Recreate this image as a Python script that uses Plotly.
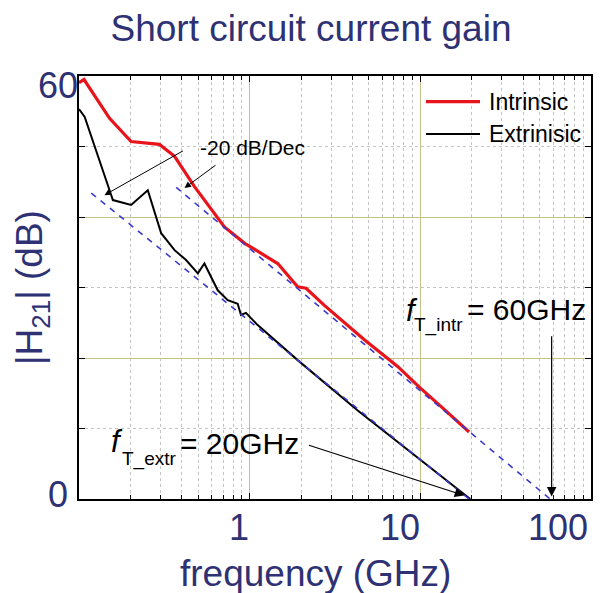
import numpy as np
import plotly.graph_objects as go

# ---------------- data ----------------
intr_freq = [0.1, 0.107, 0.151, 0.202, 0.296, 0.363, 0.475, 0.711, 0.931, 1.11, 1.46,
             1.91, 2.14, 2.73, 3.27, 4.70, 7.36, 9.83, 13.96, 19.3]
intr_gain = [59.05, 59.5, 54.0, 50.7, 50.3, 48.6, 44.3, 38.6, 36.3, 35.2, 33.4,
             30.1, 29.9, 27.5, 25.9, 22.6, 18.8, 15.9, 12.6, 9.5]

extr_freq = [0.1, 0.108, 0.151, 0.158, 0.202, 0.253, 0.303, 0.363, 0.424, 0.497, 0.543,
             0.650, 0.744, 0.851, 0.889, 0.951, 1.11, 1.74, 1.91, 4.28, 19.6]
extr_gain = [55.3, 54.2, 43.8, 42.4, 41.7, 43.8, 37.7, 35.3, 33.9, 32.0, 33.4,
             29.6, 28.2, 27.7, 26.1, 26.4, 24.7, 20.6, 19.7, 12.6, 0.0]

extr_fit_freq = [0.118, 19.3]
extr_fit_gain = [43.4, 0.0]
intr_fit_freq = [0.371, 57.6]
intr_fit_gain = [44.2, 0.0]

x_tick_vals = [1, 10, 100]
x_tick_text = ["1", "10", "100"]
y_tick_vals = [0, 60]
y_tick_text = ["0", "60"]
minor_x = [m * d for d in (0.1, 1, 10) for m in range(2, 10)]

NAVY = "#2E3173"
FONT = "Liberation Sans, Arial, sans-serif"

# plot area in pixels
L, R, T, B = 79, 591, 76, 499
W, H = 604, 593


def px(p):
    return (p - L) / (R - L)


def py(p):
    return (B - p) / (B - T)


fig = go.Figure()

fig.add_trace(go.Scatter(x=intr_freq, y=intr_gain, mode="lines", name="Intrinsic",
                         line=dict(color="#E8141B", width=3.2)))
fig.add_trace(go.Scatter(x=extr_freq, y=extr_gain, mode="lines", name="Extrinisic",
                         line=dict(color="#000000", width=2)))
fig.add_trace(go.Scatter(x=extr_fit_freq, y=extr_fit_gain, mode="lines", showlegend=False,
                         line=dict(color="#3A3ACC", width=1.6, dash="6px,6px")))
fig.add_trace(go.Scatter(x=intr_fit_freq, y=intr_fit_gain, mode="lines", showlegend=False,
                         line=dict(color="#3A3ACC", width=1.6, dash="6px,6px")))

ann = []
# tick labels
for v, t, shift in zip(x_tick_vals, x_tick_text, [-11, -20, -33]):
    ann.append(dict(x=np.log10(v), xref="x", y=py(527), yref="paper", text=t,
                    showarrow=False, xshift=shift, xanchor="center", yanchor="middle",
                    font=dict(size=36, color=NAVY, family=FONT)))
for v, t, ypix in zip(y_tick_vals, y_tick_text, [494, 85]):
    ann.append(dict(x=px(58), xref="paper", y=py(ypix), yref="paper", text=t,
                    showarrow=False, xanchor="center", yanchor="middle",
                    font=dict(size=36, color=NAVY, family=FONT)))
# axis titles
ann.append(dict(x=px(315), xref="paper", y=py(573), yref="paper", text="frequency (GHz)",
                showarrow=False, xanchor="center", yanchor="middle",
                font=dict(size=37, color=NAVY, family=FONT)))
ann.append(dict(x=px(32), xref="paper", y=py(288), yref="paper", text="|H<sub>21</sub>| (dB)",
                showarrow=False, textangle=-90, xanchor="center", yanchor="middle",
                font=dict(size=37, color=NAVY, family=FONT)))

# legend (manual)
for ytxt, name in [(102, "Intrinsic"), (134, "Extrinisic")]:
    ann.append(dict(x=px(487), xref="paper", y=py(ytxt), yref="paper", text=name,
                    showarrow=False, xanchor="left", yanchor="middle",
                    font=dict(size=23, color="black", family=FONT)))

# -20 dB/Dec
ann.append(dict(x=px(252), xref="paper", y=py(147), yref="paper", text="-20 dB/Dec",
                showarrow=False, xanchor="center", yanchor="middle",
                font=dict(size=21, color="black", family=FONT)))
for (tx, ty), (hx, hy) in [((0.415, 49.5), (0.141, 43.1)), ((0.644, 47.5), (0.415, 44.1))]:
    ann.append(dict(x=np.log10(hx), y=hy, xref="x", yref="y", ax=np.log10(tx), ay=ty,
                    axref="x", ayref="y", text="", showarrow=True, arrowhead=2,
                    arrowsize=1.3, arrowwidth=1, arrowcolor="black"))

# fT arrows
ann.append(dict(x=np.log10(18.1), y=0.5, xref="x", yref="y", ax=np.log10(2.18), ay=7.7,
                axref="x", ayref="y", text="", showarrow=True, arrowhead=2,
                arrowsize=1.6, arrowwidth=1.2, arrowcolor="black"))
ann.append(dict(x=np.log10(58.8), y=0.35, xref="x", yref="y", ax=np.log10(58.8), ay=23.3,
                axref="x", ayref="y", text="", showarrow=True, arrowhead=2,
                arrowsize=1.6, arrowwidth=1.2, arrowcolor="black"))

for fx, fy, sx, sy, sub, mx, my, main in [
        (117, 441, 120, 459, "T_extr", 178, 443, "= 20GHz"),
        (412, 310, 412, 325, "T_intr", 465, 309, "= 60GHz")]:
    ann.append(dict(x=px(fx), xref="paper", y=py(fy), yref="paper", text="<i>f</i>",
                    showarrow=False, xanchor="center", yanchor="middle",
                    font=dict(size=31, color="black", family=FONT)))
    ann.append(dict(x=px(sx), xref="paper", y=py(sy), yref="paper", text=sub,
                    showarrow=False, xanchor="left", yanchor="middle",
                    font=dict(size=19, color="black", family=FONT)))
    ann.append(dict(x=px(mx), xref="paper", y=py(my), yref="paper", text=main,
                    showarrow=False, xanchor="left", yanchor="middle",
                    font=dict(size=30, color="black", family=FONT)))

shapes = []
for ypix, col, wd in [(101.7, "#E8141B", 3.2), (134, "#000000", 2)]:
    shapes.append(dict(type="line", xref="paper", yref="paper", x0=px(426), x1=px(480),
                       y0=py(ypix), y1=py(ypix), line=dict(color=col, width=wd)))

fig.update_layout(
    width=W, height=H,
    margin=dict(l=L, r=W - R, t=T, b=H - B, pad=0),
    paper_bgcolor="white", plot_bgcolor="white",
    showlegend=False,
    title=dict(text="Short circuit current gain", x=311 / W, xref="container", xanchor="center",
               y=1 - 28 / H, yref="container", yanchor="middle",
               font=dict(size=37, color=NAVY, family=FONT)),
    annotations=ann, shapes=shapes,
)
fig.update_xaxes(type="log", range=[-1, 2], dtick=1, showticklabels=False,
                 ticks="inside", ticklen=6, tickcolor="black",
                 showline=True, linecolor="black", linewidth=1.5, mirror="ticks",
                 showgrid=True, gridcolor="#C2C288", gridwidth=1, zeroline=False,
                 minor=dict(tickvals=minor_x, ticks="inside", ticklen=4, tickcolor="black",
                            showgrid=True, gridcolor="#C4C4C4", griddash="dot", gridwidth=1))
fig.update_yaxes(range=[0, 60], dtick=20, showticklabels=False,
                 ticks="inside", ticklen=6, tickcolor="black",
                 showline=True, linecolor="black", linewidth=1.5, mirror="ticks",
                 showgrid=True, gridcolor="#C2C288", gridwidth=1, zeroline=False,
                 minor=dict(dtick=10, ticks="inside", ticklen=6, tickcolor="black",
                            showgrid=True, gridcolor="#C4C4C4", griddash="dot", gridwidth=1))

fig.write_html("out.html", config={"displayModeBar": False},
               post_script="document.body.style.margin='0px';")
